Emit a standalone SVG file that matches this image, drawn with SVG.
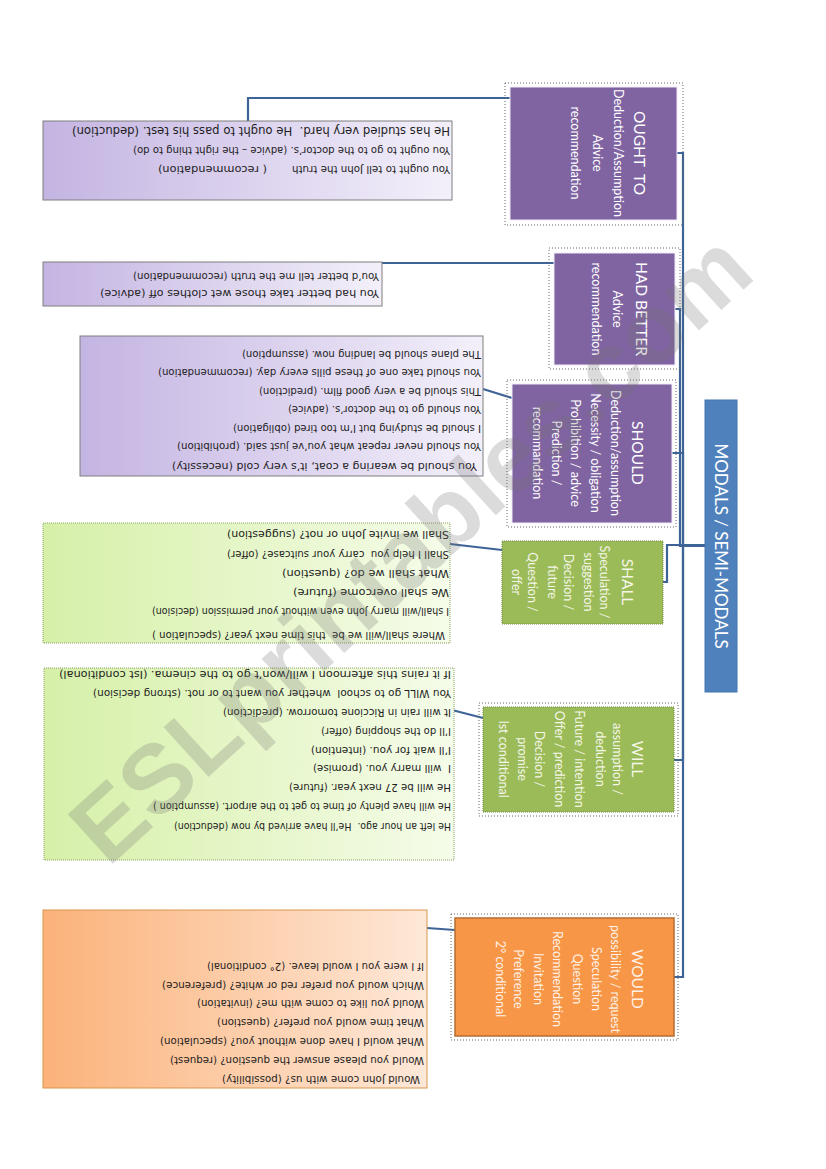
<svg xmlns="http://www.w3.org/2000/svg" width="826" height="1169" viewBox="0 0 826 1169">
<defs>
<linearGradient id="gP" x1="0" y1="0" x2="1" y2="0"><stop offset="0" stop-color="#c4b4e2"/><stop offset="1" stop-color="#f3f0fa"/></linearGradient>
<linearGradient id="gG" x1="0" y1="0" x2="1" y2="0"><stop offset="0" stop-color="#d6f0a8"/><stop offset="1" stop-color="#f5fce9"/></linearGradient>
<linearGradient id="gO" x1="0" y1="0" x2="1" y2="0"><stop offset="0" stop-color="#fbb27a"/><stop offset="1" stop-color="#fee8d8"/></linearGradient>
</defs>
<style>
.nt{font-family:Lato,"Noto Sans","Liberation Sans",sans-serif;font-size:12.5px;fill:#fff;text-anchor:middle;dominant-baseline:central}
.tt{font-size:15.5px}
.gt{fill:#f4f6e6}
.ot{fill:#fff1e6}
.ex{font-family:"DejaVu Sans",Verdana,sans-serif;font-size:10.5px;fill:#1e1e1e;dominant-baseline:central}
.fr{fill:none;stroke:#666;stroke-width:1;stroke-dasharray:1 2}
.con{fill:none;stroke:#3e6497;stroke-width:2.2}
.pb{fill:url(#gP);stroke:#7f7f7f;stroke-width:1}
.gb{fill:url(#gG);stroke:#8aa060;stroke-width:1;stroke-dasharray:1 1}
.ob{fill:url(#gO);stroke:#d9954f;stroke-width:1}
</style>
<rect width="826" height="1169" fill="#fff"/>

<g id="connectors">
<path class="con" d="M705,546 H683 V153 H677"/>
<path class="con" d="M705,546 H680 V309 H675"/>
<path class="con" d="M705,546 H683 V453 H672"/>
<path class="con" d="M705,545 H667 V582 H663"/>
<path class="con" d="M705,546 H683 V760 H674"/>
<path class="con" d="M705,546 H683 V977 H674"/>
<path class="con" d="M510,98 H248 V121"/>
<path class="con" d="M554,263 H382"/>
<path class="con" d="M512,398 L483,389"/>
<path class="con" d="M502,550 L450,544"/>
<path class="con" d="M483,718 L452,710"/>
<path class="con" d="M455,930 L427,928"/>
</g>

<g id="modals">
<rect x="705" y="400" width="32" height="292" fill="#4f81bd" stroke="#4577b0"/>
<text class="nt" style="font-size:17px" transform="translate(721,546) rotate(90)">MODALS / SEMI-MODALS</text>
</g>

<g id="ought">
<rect class="fr" x="505" y="83" width="178" height="142"/>
<rect x="510" y="87" width="167" height="133" fill="#8064a2" stroke="#f0eaf8"/>
<text class="nt tt" xml:space="preserve" transform="translate(640,153) rotate(90)">OUGHT  TO</text>
<text class="nt" transform="translate(618,153) rotate(90)">Deduction/Assumption</text>
<text class="nt" transform="translate(597,153) rotate(90)">Advice</text>
<text class="nt" transform="translate(575,153) rotate(90)">recommendation</text>
</g>

<g id="had-better">
<rect class="fr" x="549" y="248" width="131" height="121"/>
<rect x="554" y="253" width="121" height="112" fill="#8064a2" stroke="#f0eaf8"/>
<text class="nt tt" transform="translate(642,309) rotate(90)">HAD BETTER</text>
<text class="nt" transform="translate(617,309) rotate(90)">Advice</text>
<text class="nt" transform="translate(596,309) rotate(90)">recommendation</text>
</g>

<g id="should">
<rect class="fr" x="507" y="380" width="169" height="147"/>
<rect x="512" y="384" width="160" height="139" fill="#8064a2" stroke="#f0eaf8"/>
<text class="nt tt" transform="translate(638,453) rotate(90)">SHOULD</text>
<text class="nt" transform="translate(615,453) rotate(90)">Deduction/assumption</text>
<text class="nt" transform="translate(595,453) rotate(90)">Necessity / obligation</text>
<text class="nt" transform="translate(575,453) rotate(90)">Prohibition / advice</text>
<text class="nt" transform="translate(556,453) rotate(90)">Prediction /</text>
<text class="nt" transform="translate(537,453) rotate(90)">recommandation</text>
</g>

<g id="shall">
<rect x="502" y="541" width="161" height="83" fill="#9bbb59" stroke="#6f8a3a" stroke-dasharray="1 1"/>
<text class="nt tt gt" transform="translate(628,582) rotate(90)">SHALL</text>
<text class="nt gt" transform="translate(604,582) rotate(90)">Speculation /</text>
<text class="nt gt" transform="translate(588,582) rotate(90)">suggestion</text>
<text class="nt gt" transform="translate(568,582) rotate(90)">Decision /</text>
<text class="nt gt" transform="translate(552,582) rotate(90)">future</text>
<text class="nt gt" transform="translate(532,582) rotate(90)">Question /</text>
<text class="nt gt" transform="translate(516,582) rotate(90)">offer</text>
</g>

<g id="will">
<rect class="fr" x="479" y="703" width="199" height="113"/>
<rect x="483" y="707" width="191" height="105" fill="#9bbb59" stroke="#6f8a3a" stroke-dasharray="1 1"/>
<text class="nt tt gt" transform="translate(638,759) rotate(90)">WILL</text>
<text class="nt gt" transform="translate(617,759) rotate(90)">assumption /</text>
<text class="nt gt" transform="translate(600,759) rotate(90)">deduction</text>
<text class="nt gt" transform="translate(579,759) rotate(90)">Future / intention</text>
<text class="nt gt" transform="translate(559,759) rotate(90)">Offer / prediction</text>
<text class="nt gt" transform="translate(539,759) rotate(90)">Decision /</text>
<text class="nt gt" transform="translate(522,759) rotate(90)">promise</text>
<text class="nt gt" transform="translate(503,759) rotate(90)">Ist conditional</text>
</g>

<g id="would">
<rect class="fr" x="451" y="914" width="227" height="126"/>
<rect x="455" y="918" width="219" height="118" fill="#f79646" stroke="#b66d31" stroke-width="1.5"/>
<text class="nt tt ot" transform="translate(638,979) rotate(90)">WOULD</text>
<text class="nt ot" transform="translate(615,979) rotate(90)">possibility / request</text>
<text class="nt ot" transform="translate(596,979) rotate(90)">Speculation</text>
<text class="nt ot" transform="translate(577,979) rotate(90)">Question</text>
<text class="nt ot" transform="translate(557,979) rotate(90)">Recommendation</text>
<text class="nt ot" transform="translate(538,979) rotate(90)">Invitation</text>
<text class="nt ot" transform="translate(518,979) rotate(90)">Preference</text>
<text class="nt ot" transform="translate(500,979) rotate(90)">2° conditional</text>
</g>

<g id="ought-examples">
<rect class="pb" x="43" y="121" width="409" height="79"/>
<text class="ex" style="font-size:12px" xml:space="preserve" textLength="378" lengthAdjust="spacingAndGlyphs" transform="translate(450,131) rotate(180)">He has studied very hard.  He ought to pass his test. (deduction)</text>
<text class="ex" textLength="317" lengthAdjust="spacingAndGlyphs" transform="translate(450,151) rotate(180)">You ought to go to the doctor’s. (advice – the right thing to do)</text>
<text class="ex" textLength="158" lengthAdjust="spacingAndGlyphs" transform="translate(450,170) rotate(180)">You ought to tell John the truth</text>
<text class="ex" textLength="109" lengthAdjust="spacingAndGlyphs" transform="translate(267,170) rotate(180)">( recommendation)</text>
</g>

<g id="had-better-examples">
<rect class="pb" x="43" y="262" width="339" height="44"/>
<text class="ex" textLength="246" lengthAdjust="spacingAndGlyphs" transform="translate(379,277) rotate(180)">You’d better tell me the truth (recommendation)</text>
<text class="ex" textLength="279" lengthAdjust="spacingAndGlyphs" transform="translate(379,294) rotate(180)">You had better take those wet clothes off (advice)</text>
</g>

<g id="should-examples">
<rect class="pb" x="80" y="336" width="403" height="140"/>
<text class="ex" textLength="239" lengthAdjust="spacingAndGlyphs" transform="translate(481,355) rotate(180)">The plane should be landing now. (assumption)</text>
<text class="ex" textLength="323" lengthAdjust="spacingAndGlyphs" transform="translate(481,373) rotate(180)">You should take one of these pills every day. (recommendation)</text>
<text class="ex" textLength="222" lengthAdjust="spacingAndGlyphs" transform="translate(481,392) rotate(180)">This should be a very good film. (prediction)</text>
<text class="ex" textLength="193" lengthAdjust="spacingAndGlyphs" transform="translate(481,410) rotate(180)">You should go to the doctor’s. (advice)</text>
<text class="ex" textLength="248" lengthAdjust="spacingAndGlyphs" transform="translate(481,429) rotate(180)">I should be studying but I’m too tired (obligation)</text>
<text class="ex" textLength="304" lengthAdjust="spacingAndGlyphs" transform="translate(481,447) rotate(180)">You should never repeat what you’ve just said. (prohibition)</text>
<text class="ex" textLength="305" lengthAdjust="spacingAndGlyphs" transform="translate(477,467) rotate(180)">You should be wearing a coat, it’s very cold (necessity)</text>
</g>

<g id="shall-examples">
<rect class="gb" x="43" y="523" width="407" height="120"/>
<text class="ex" textLength="222" lengthAdjust="spacingAndGlyphs" transform="translate(449,535) rotate(180)">Shall we invite John or not? (suggestion)</text>
<text class="ex" xml:space="preserve" textLength="222" lengthAdjust="spacingAndGlyphs" transform="translate(449,555) rotate(180)">Shall I help you  carry your suitcase? (offer)</text>
<text class="ex" textLength="167" lengthAdjust="spacingAndGlyphs" transform="translate(449,574) rotate(180)">What shall we do? (question)</text>
<text class="ex" textLength="156" lengthAdjust="spacingAndGlyphs" transform="translate(449,593) rotate(180)">We shall overcome (future)</text>
<text class="ex" textLength="297" lengthAdjust="spacingAndGlyphs" transform="translate(449,612) rotate(180)">I shall/will marry John even without your permission (decision)</text>
<text class="ex" xml:space="preserve" textLength="293" lengthAdjust="spacingAndGlyphs" transform="translate(445,636) rotate(180)">Where shall/will we be  this time next year? (speculation )</text>
</g>

<g id="will-examples">
<rect class="gb" x="44" y="668" width="410" height="192"/>
<text class="ex" textLength="392" lengthAdjust="spacingAndGlyphs" transform="translate(451,675) rotate(180)">If it rains this afternoon I will/won’t go to the cinema. (Ist conditional)</text>
<text class="ex" xml:space="preserve" textLength="358" lengthAdjust="spacingAndGlyphs" transform="translate(451,694) rotate(180)">You WILL go to school  whether you want to or not. (strong decision)</text>
<text class="ex" textLength="228" lengthAdjust="spacingAndGlyphs" transform="translate(451,713) rotate(180)">It will rain in Riccione tomorrow. (prediction)</text>
<text class="ex" textLength="130" lengthAdjust="spacingAndGlyphs" transform="translate(451,732) rotate(180)">I’ll do the shopping (offer)</text>
<text class="ex" textLength="140" lengthAdjust="spacingAndGlyphs" transform="translate(451,751) rotate(180)">I’ll wait for you. (intention)</text>
<text class="ex" xml:space="preserve" textLength="138" lengthAdjust="spacingAndGlyphs" transform="translate(451,769) rotate(180)">I  will marry you. (promise)</text>
<text class="ex" textLength="162" lengthAdjust="spacingAndGlyphs" transform="translate(451,788) rotate(180)">He will be 27 next year. (future)</text>
<text class="ex" textLength="298" lengthAdjust="spacingAndGlyphs" transform="translate(451,807) rotate(180)">He will have plenty of time to get to the airport. (assumption )</text>
<text class="ex" xml:space="preserve" textLength="277" lengthAdjust="spacingAndGlyphs" transform="translate(451,827) rotate(180)">He left an hour ago.  He’ll have arrived by now (deduction)</text>
</g>

<g id="would-examples">
<rect class="ob" x="43" y="910" width="384" height="178"/>
<text class="ex" textLength="217" lengthAdjust="spacingAndGlyphs" transform="translate(424,967) rotate(180)">If I were you I would leave. (2° conditional)</text>
<text class="ex" textLength="262" lengthAdjust="spacingAndGlyphs" transform="translate(424,986) rotate(180)">Which would you prefer red or white? (preference)</text>
<text class="ex" textLength="227" lengthAdjust="spacingAndGlyphs" transform="translate(424,1004) rotate(180)">Would you like to come with me? (invitation)</text>
<text class="ex" textLength="207" lengthAdjust="spacingAndGlyphs" transform="translate(424,1023) rotate(180)">What time would you prefer? (question)</text>
<text class="ex" textLength="264" lengthAdjust="spacingAndGlyphs" transform="translate(424,1042) rotate(180)">What would I have done without you? (speculation)</text>
<text class="ex" textLength="254" lengthAdjust="spacingAndGlyphs" transform="translate(424,1061) rotate(180)">Would you please answer the question? (request)</text>
<text class="ex" textLength="198" lengthAdjust="spacingAndGlyphs" transform="translate(420,1080) rotate(180)">Would John come with us? (possibility)</text>
</g>

<g id="watermark">
<text transform="translate(108,868) rotate(-42.3)" font-family="Liberation Sans, Arial, sans-serif" font-weight="bold" font-size="97" fill="#6f6f6f" fill-opacity="0.25">ESLprintables.com</text>
</g>
</svg>
